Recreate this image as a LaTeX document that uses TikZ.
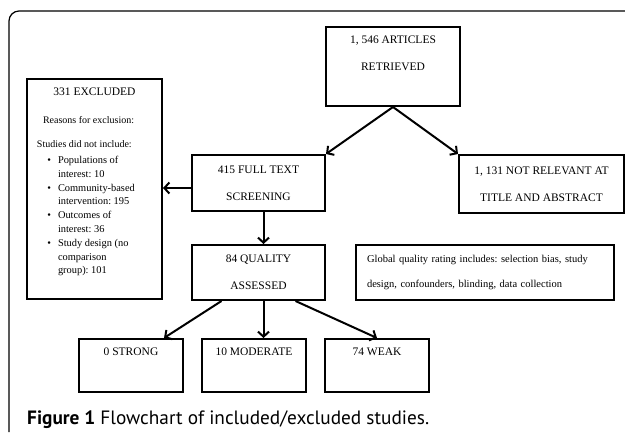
\documentclass[tikz,border=0pt]{standalone}
\usepackage{fontspec}
\setmainfont{Liberation Serif}
\newfontfamily\captionfont{PT Sans}
\usetikzlibrary{arrows.meta}
\frenchspacing

\begin{document}
\begin{tikzpicture}[x=1pt,y=-1pt,
  boxline/.style={draw, line width=2pt, inner sep=0pt},
  box/.style={boxline, align=center, font=\fontsize{11.5}{27}\selectfont},
  arr/.style={line width=2pt, -{Straight Barb[length=5pt,width=11pt]}}]
\useasboundingbox (0,0) rectangle (625,432);
% frame
\draw[line width=1.2pt, rounded corners=10pt] (9,432) -- (9,11) -- (625,11);

% search and screening
\node[box, minimum width=134pt, minimum height=79pt] (art) at (393,66.5) {1, 546 ARTICLES\\RETRIEVED\\\mbox{}};
\node[box, minimum width=133pt, minimum height=56pt] (full) at (258.5,183) {415 FULL TEXT\\SCREENING};
\node[box, minimum width=165pt, minimum height=58pt] (notrel) at (541.5,184) {1, 131 NOT RELEVANT AT\\TITLE AND ABSTRACT};

% exclusions
\node[boxline, minimum width=135pt, minimum height=220pt] (excl) at (94.5,189) {%
\begin{minipage}[t][206pt][t]{125pt}
\vspace*{2pt}
{\centering\fontsize{11.5}{14}\selectfont 331 EXCLUDED\par}
\fontsize{10}{13.8}\selectfont
\vspace{14.2pt}
\hspace*{11pt}Reasons for exclusion:\par
\vspace{10.2pt}
\hspace*{5pt}Studies did not include:\par
\fontsize{10.4}{13.8}\selectfont
\begin{list}{\textbullet}{\setlength\leftmargin{26pt}\setlength\labelsep{7pt}%
  \setlength\itemsep{0pt}\setlength\parsep{0pt}\setlength\topsep{0pt}}
\item Populations of\newline interest: 10
\item Community-based\newline intervention: 195
\item Outcomes of\newline interest: 36
\item Study design (no\newline comparison\newline group): 101
\end{list}
\end{minipage}};

% quality
\node[box, minimum width=133pt, minimum height=55pt] (qual) at (258.5,272.5) {84 QUALITY\\ASSESSED};
\node[box, minimum width=258pt, minimum height=55pt, text width=236pt, align=left,
  font=\fontsize{10.5}{25}\selectfont] (glob) at (485,272.5)
  {Global quality rating includes: selection bias, study\\design, confounders, blinding, data collection};

% ratings
\node[box, minimum width=104pt, minimum height=53pt] (strong) at (131,365.5) {0 STRONG\\\mbox{}};
\node[box, minimum width=104pt, minimum height=53pt] (mod) at (254,365.5) {10 MODERATE\\\mbox{}};
\node[box, minimum width=104pt, minimum height=53pt] (weak) at (377,365.5) {74 WEAK\\\mbox{}};

% arrows
\coordinate (fw) at ([yshift=-5pt]full.west);
\coordinate (fs) at ([xshift=5pt]full.south);
\coordinate (qs) at ([xshift=5pt]qual.south);
\draw[arr] (art.south) -- (full.north east);
\draw[arr] (art.south) -- (notrel.north west);
\draw[arr] (fw) -- (fw -| excl.east);
\draw[arr] (fs) -- (fs |- qual.north);
\draw[arr] ([xshift=-37pt]qual.south) -- ([xshift=33pt]strong.north);
\draw[arr] (qs) -- (qs |- mod.north);
\draw[arr] ([xshift=37pt]qual.south) -- (weak.north);

% caption
\node[anchor=base west, inner sep=0pt, font=\captionfont\fontsize{19.3}{22}\selectfont] (cap) at (27,424)
  {\textbf{Figure 1} Flowchart of included/excluded studies.};
\end{tikzpicture}
\end{document}
